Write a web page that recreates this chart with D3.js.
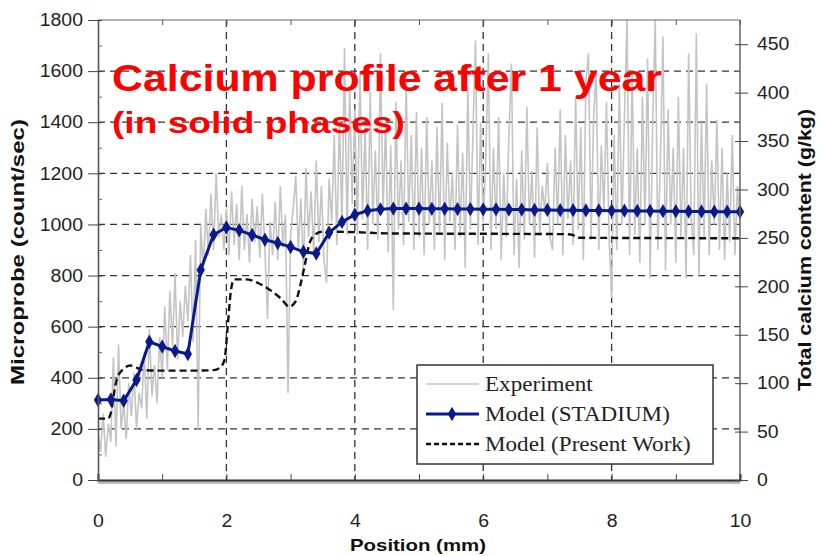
<!DOCTYPE html>
<html>
<head>
<meta charset="utf-8">
<script src="https://cdn.jsdelivr.net/npm/d3@7/dist/d3.min.js"></script>
<style>
  body { margin: 0; background: #fff; }
  svg { display: block; }
</style>
</head>
<body>
<div id="chart"></div>
<script>
// experiment: microprobe readings every 0.04 mm
const expStep = 0.04;
const experiment = [
  180, 110, 260, 90, 220, 150, 480, 130, 530, 200, 300, 160, 380, 250, 420, 200, 340, 280, 500, 240, 590, 330, 450, 300, 560,
  400, 680, 430, 740, 520, 810, 470, 700, 560, 760, 620, 880, 540, 940, 200, 1000, 820, 1060, 880, 1120, 900, 1200, 950, 1040, 900,
  1060, 880, 1130, 920, 1080, 860, 1150, 900, 1040, 850, 1100, 930, 1070, 870, 1120, 900, 630, 1010, 880, 1090, 860, 1150, 910, 1040, 340,
  960, 1060, 1190, 900, 1100, 820, 1220, 950, 1130, 880, 1250, 930, 1150, 860, 770, 1180, 1010, 1350, 920, 1420, 1000, 1690, 960, 1540, 1080,
  1450, 960, 1600, 1020, 1380, 900, 1520, 1000, 1290, 940, 1670, 1050, 1400, 890, 1310, 665, 1480, 980, 1250, 920, 1560, 1010, 1350, 900, 1440,
  950, 1300, 880, 1420, 1000, 1250, 900, 1380, 960, 1475, 860, 1320, 1010, 1200, 900, 1390, 950, 1280, 830, 1540, 980, 1350, 1720, 920, 1400,
  1010, 1250, 1670, 900, 1300, 980, 1420, 860, 1200, 950, 1350, 1630, 880, 1180, 830, 1290, 940, 1460, 1000, 1210, 870, 1380, 960, 1150, 1050,
  1240, 950, 900, 1300, 1000, 1450, 880, 1350, 1020, 1250, 920, 1500, 980, 1380, 860, 1560, 1670, 940, 1420, 1600, 900, 1310, 1050, 1480, 960,
  712, 1350, 900, 1550, 1000, 1420, 1800, 880, 1600, 960, 1300, 850, 1500, 1000, 1650, 790, 1400, 1800, 900, 1250, 1735, 820, 1450, 1000, 1300,
  850, 1500, 950, 1300, 790, 1670, 1020, 880, 1748, 800, 1400, 950, 1550, 880, 1250, 1000, 1410, 900, 1300, 860, 1200, 930, 1350, 880, 1150,
  1000
];

// STADIUM model, every 0.2 mm
const stadiumStep = 0.2;
const stadium = [
  313, 315, 310, 391, 541, 522, 505, 493, 822, 960, 988, 977, 959, 940, 927, 912, 893, 886, 968, 1010, 1038,
  1054, 1059, 1062, 1062, 1062, 1061, 1061, 1060, 1060, 1059, 1059, 1058, 1058, 1057, 1057, 1056, 1056, 1055, 1055,
  1054, 1054, 1053, 1053, 1052, 1052, 1051, 1051, 1050, 1050, 1050
];

// present work model
const presentPos = [0, 0.15, 0.2, 0.25, 0.3, 0.4, 0.5, 0.6, 0.7, 1.0, 1.5, 1.8, 1.9, 1.97, 2.02, 2.07, 2.12, 2.3, 2.5, 2.7, 2.85, 2.98, 3.08, 3.15, 3.22, 3.3, 3.38, 3.5, 4.0, 4.5, 7.3, 7.4, 7.48, 10];
const presentVal = [240, 240, 262, 340, 400, 435, 448, 440, 430, 428, 428, 430, 440, 470, 600, 740, 785, 785, 770, 740, 710, 678, 700, 760, 840, 930, 960, 972, 970, 965, 962, 958, 948, 946];

const xTicks = [0, 1, 2, 3, 4, 5, 6, 7, 8, 9, 10];
const yTicks = [0, 200, 400, 600, 800, 1000, 1200, 1400, 1600, 1800];
const yMinor = [100, 300, 500, 700, 900, 1100, 1300, 1500, 1700];
const y2Ticks = [0, 50, 100, 150, 200, 250, 300, 350, 400, 450];
const xGrid = [2, 4, 6, 8];
const yGrid = [200, 400, 600, 800, 1000, 1200, 1400, 1600];
const legendNames = ["Experiment", "Model (STADIUM)", "Model (Present Work)"];

const W = 822, H = 556;
const margin = {top: 20, right: 82, bottom: 76, left: 98};
const pw = W - margin.left - margin.right, ph = H - margin.top - margin.bottom;

const x = d3.scaleLinear().domain([0, 10]).range([0, pw]);
const y = d3.scaleLinear().domain([0, 1800]).range([ph, 0]);
const y2 = d3.scaleLinear().domain([0, 475]).range([ph, 0]);

const svg = d3.select("#chart").append("svg")
  .attr("width", W)
  .attr("height", H);

const stretch = function(k) {
  return function() {
    const w = this.getComputedTextLength();
    d3.select(this).attr("textLength", w * k).attr("lengthAdjust", "spacingAndGlyphs");
  };
};

const g = svg.append("g").attr("transform", "translate(" + margin.left + "," + margin.top + ")");

g.append("defs").append("clipPath").attr("id", "plot")
  .append("rect").attr("width", pw).attr("height", ph);

// grid
g.selectAll(".hgrid").data(yGrid).enter().append("line")
  .attr("x1", 0).attr("x2", pw)
  .attr("y1", d => y(d)).attr("y2", d => y(d))
  .attr("stroke", "#333").attr("stroke-width", 1.3).attr("stroke-dasharray", "7,5");
g.selectAll(".vgrid").data(xGrid).enter().append("line")
  .attr("x1", d => x(d)).attr("x2", d => x(d))
  .attr("y1", 0).attr("y2", ph)
  .attr("stroke", "#333").attr("stroke-width", 1.3).attr("stroke-dasharray", "7,5");

const plot = g.append("g").attr("clip-path", "url(#plot)");

plot.append("path")
  .datum(experiment)
  .attr("fill", "none")
  .attr("stroke", "#c4c4c4")
  .attr("stroke-width", 1.6)
  .attr("d", d3.line().x((d, i) => x(i * expStep)).y(d => y(d)));

plot.append("path")
  .datum(presentPos.map((p, i) => [p, presentVal[i]]))
  .attr("fill", "none")
  .attr("stroke", "#111")
  .attr("stroke-width", 2.4)
  .attr("stroke-dasharray", "7,4")
  .attr("d", d3.line().curve(d3.curveMonotoneX).x(d => x(d[0])).y(d => y(d[1])));

const blue = "#0b1a8a";
g.append("path")
  .datum(stadium)
  .attr("fill", "none")
  .attr("stroke", blue)
  .attr("stroke-width", 3)
  .attr("d", d3.line().x((d, i) => x(i * stadiumStep)).y(d => y(d)));

g.selectAll(".mk").data(stadium).enter().append("path")
  .attr("transform", (d, i) => "translate(" + x(i * stadiumStep) + "," + y(d) + ")")
  .attr("d", d3.symbol().type(d3.symbolDiamond).size(60))
  .attr("fill", blue);

// frame
g.append("line").attr("x1", 0).attr("x2", pw).attr("y1", 0).attr("y2", 0).attr("stroke", "#666").attr("stroke-width", 1.2);
g.append("line").attr("x1", pw).attr("x2", pw).attr("y1", 0).attr("y2", ph).attr("stroke", "#666").attr("stroke-width", 1.5);
g.append("rect").attr("x", 0).attr("y", ph + 1).attr("width", pw).attr("height", 3).attr("fill", "#bbb");

// top ticks
g.append("g")
  .call(d3.axisTop(x).tickValues(xTicks).tickSize(-5).tickFormat(""))
  .call(s => s.select(".domain").remove())
  .selectAll("line").attr("stroke", "#555");

// bottom axis
const xa = g.append("g")
  .attr("transform", "translate(0," + ph + ")")
  .call(d3.axisBottom(x).tickValues(xTicks).tickSize(-6).tickPadding(34).tickFormat(d => d % 2 === 0 ? d : ""));
xa.select(".domain").attr("stroke", "#333").attr("stroke-width", 2);
xa.selectAll("line").attr("stroke", "#444");

// left axis
const ya = g.append("g")
  .call(d3.axisLeft(y).tickValues(yTicks).tickSizeInner(10).tickSizeOuter(0).tickPadding(5).tickFormat(d3.format("d")));
ya.select(".domain").attr("stroke", "#555").attr("stroke-width", 1.6);
ya.selectAll(".tick line").attr("stroke", "#444").attr("x2", -10).attr("x1", 4);
g.append("g")
  .call(d3.axisRight(y).tickValues(yMinor).tickSize(4).tickFormat(""))
  .call(s => s.select(".domain").remove())
  .selectAll("line").attr("stroke", "#666");

// right axis
const y2a = g.append("g")
  .attr("transform", "translate(" + pw + ",0)")
  .call(d3.axisRight(y2).tickValues(y2Ticks).tickSizeInner(8).tickSizeOuter(0).tickPadding(9).tickFormat(d3.format("d")));
y2a.select(".domain").remove();
y2a.selectAll(".tick line").attr("stroke", "#444").attr("x1", -5);

g.selectAll(".tick text")
  .attr("font-family", "Liberation Sans, Arial, sans-serif")
  .attr("font-size", 18)
  .attr("fill", "#222")
  .each(stretch(1.08));

// axis titles
svg.append("text")
  .attr("transform", "translate(24,252) rotate(-90)")
  .attr("text-anchor", "middle")
  .attr("font-family", "Liberation Sans, Arial, sans-serif")
  .attr("font-weight", "bold").attr("font-size", 18).attr("fill", "#111")
  .text("Microprobe (count/sec)")
  .attr("textLength", 266).attr("lengthAdjust", "spacingAndGlyphs");
svg.append("text")
  .attr("transform", "translate(811,250) rotate(-90)")
  .attr("text-anchor", "middle")
  .attr("font-family", "Liberation Sans, Arial, sans-serif")
  .attr("font-weight", "bold").attr("font-size", 18).attr("fill", "#111")
  .text("Total calcium content (g/kg)")
  .attr("textLength", 282).attr("lengthAdjust", "spacingAndGlyphs");
svg.append("text")
  .attr("x", 418).attr("y", 551)
  .attr("text-anchor", "middle")
  .attr("font-family", "Liberation Sans, Arial, sans-serif")
  .attr("font-weight", "bold").attr("font-size", 17).attr("fill", "#111")
  .text("Position (mm)")
  .each(stretch(1.2));

// legend
const lg = svg.append("g").attr("transform", "translate(417,365)");
lg.append("rect").attr("width", 296).attr("height", 99)
  .attr("fill", "#fff").attr("stroke", "#333").attr("stroke-width", 1.5);
const rows = lg.selectAll(".row").data(legendNames).enter().append("g")
  .attr("transform", (d, i) => "translate(0," + (19 + i * 30) + ")");
rows.append("line").attr("x1", 9).attr("x2", 62)
  .attr("stroke", (d, i) => ["#c4c4c4", blue, "#111"][i])
  .attr("stroke-width", (d, i) => [1.6, 3, 2.4][i])
  .attr("stroke-dasharray", (d, i) => i === 2 ? "5,3" : null);
rows.filter((d, i) => i === 1).append("path")
  .attr("transform", "translate(35,0)")
  .attr("d", d3.symbol().type(d3.symbolDiamond).size(60))
  .attr("fill", blue);
rows.append("text")
  .attr("x", 68).attr("dy", "0.35em")
  .attr("font-family", "Liberation Serif, Times New Roman, serif")
  .attr("font-size", 21).attr("fill", "#222")
  .text(d => d)
  .each(stretch(1.1));

// title
svg.append("text")
  .attr("x", 112).attr("y", 91)
  .attr("font-family", "Liberation Sans, Arial, sans-serif")
  .attr("font-weight", "bold").attr("font-size", 37).attr("fill", "#ff0000")
  .text("Calcium profile after 1 year")
  .attr("textLength", 550).attr("lengthAdjust", "spacingAndGlyphs");
svg.append("text")
  .attr("x", 112).attr("y", 133)
  .attr("font-family", "Liberation Sans, Arial, sans-serif")
  .attr("font-weight", "bold").attr("font-size", 30).attr("fill", "#ff0000")
  .text("(in solid phases)")
  .attr("textLength", 293).attr("lengthAdjust", "spacingAndGlyphs");
</script>
</body>
</html>
